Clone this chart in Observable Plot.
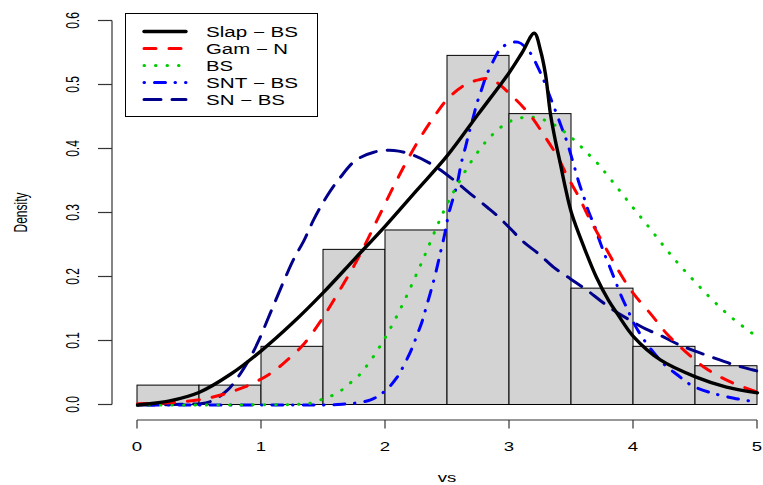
<!DOCTYPE html>
<html><head><meta charset="utf-8">
<script src="https://cdn.jsdelivr.net/npm/d3@7"></script>
<script src="https://cdn.jsdelivr.net/npm/@observablehq/plot@0.6"></script>
<style>
body{margin:0;background:#fff}
svg{font-family:"Liberation Sans",Arial,Helvetica,sans-serif}
</style>
</head><body><div id="chart"></div>
<script>
// ---- data ----
const binEdges = [0, 0.5, 1, 1.5, 2, 2.5, 3, 3.5, 4, 4.5, 5];
const binDensity = [0.0303, 0.0303, 0.0909, 0.2424, 0.2727, 0.5455, 0.4545, 0.1818, 0.0909, 0.0606];
const xTicks = [0, 1, 2, 3, 4, 5];
const yTicks = [0, 0.1, 0.2, 0.3, 0.4, 0.5, 0.6];
const yTickLabels = ["0.0", "0.1", "0.2", "0.3", "0.4", "0.5", "0.6"];
const xLabel = "vs";
const yLabel = "Density";
const seriesNames = ["Slap \u2212 BS", "Gam \u2212 N", "BS", "SNT \u2212 BS", "SN \u2212 BS"];

const slapX = [0, 0.1, 0.25, 0.5, 0.75, 1.0, 1.25, 1.5, 1.75, 2.0, 2.25, 2.5, 2.75, 3.0, 3.1, 3.2, 3.25, 3.29, 3.33, 3.37, 3.41, 3.45, 3.5, 3.6, 3.7, 3.8, 3.87, 4.0, 4.22, 4.5, 4.75, 5.0];
const slapY = [0, 0.002, 0.006, 0.02, 0.048, 0.085, 0.128, 0.176, 0.228, 0.28, 0.335, 0.39, 0.455, 0.52, 0.55, 0.581, 0.554, 0.517, 0.455, 0.413, 0.377, 0.34, 0.30, 0.247, 0.2, 0.163, 0.1425, 0.107, 0.07, 0.044, 0.028, 0.019];

const gamX = [0, 0.3, 0.6, 0.86, 1.07, 1.2, 1.34, 1.48, 1.58, 1.77, 1.93, 2.09, 2.25, 2.39, 2.5, 2.63, 2.75, 2.85, 3.03, 3.17, 3.28, 3.39, 3.47, 3.56, 3.64, 3.72, 3.82, 3.91, 4.0, 4.14, 4.27, 4.41, 4.57, 4.76, 5.0];
const gamY = [0.002, 0.004, 0.012, 0.028, 0.049, 0.069, 0.095, 0.132, 0.163, 0.226, 0.288, 0.351, 0.408, 0.45, 0.478, 0.499, 0.508, 0.509, 0.481, 0.452, 0.421, 0.387, 0.356, 0.325, 0.293, 0.265, 0.23, 0.2, 0.174, 0.142, 0.111, 0.085, 0.059, 0.038, 0.02];

const bsX = [0, 0.5, 1.0, 1.3, 1.4, 1.5, 1.615, 1.7, 1.78, 1.844, 1.9, 1.95, 2.0, 2.086, 2.167, 2.242, 2.315, 2.417, 2.497, 2.578, 2.677, 2.788, 2.855, 2.93, 3.02, 3.156, 3.277, 3.385, 3.47, 3.55, 3.62, 3.694, 3.76, 3.88, 4.0, 4.124, 4.245, 4.37, 4.508, 4.648, 4.804, 5.0];
const bsY = [0, 0, 0.0003, 0.001, 0.003, 0.0097, 0.019, 0.032, 0.045, 0.06, 0.075, 0.09, 0.106, 0.137, 0.169, 0.201, 0.233, 0.28, 0.314, 0.343, 0.376, 0.4065, 0.421, 0.434, 0.4445, 0.45, 0.4456, 0.435, 0.4226, 0.409, 0.395, 0.381, 0.366, 0.337, 0.3075, 0.278, 0.248, 0.219, 0.19, 0.162, 0.1345, 0.106];

const sntX = [0, 0.5, 1.0, 1.5, 1.65, 1.88, 2.0, 2.094, 2.153, 2.21, 2.254, 2.296, 2.33, 2.363, 2.403, 2.444, 2.478, 2.51, 2.578, 2.61, 2.645, 2.672, 2.704, 2.74, 2.774, 2.812, 2.865, 2.94, 3.067, 3.164, 3.228, 3.277, 3.323, 3.37, 3.42, 3.46, 3.524, 3.559, 3.6, 3.64, 3.685, 3.72, 3.766, 3.81, 3.855, 3.9, 3.95, 4.0, 4.07, 4.15, 4.245, 4.35, 4.47, 4.635, 4.81, 5.0];
const sntY = [0, 0, 0, 0, 0.001, 0.008, 0.0227, 0.0434, 0.064, 0.087, 0.109, 0.131, 0.154, 0.176, 0.205, 0.239, 0.2675, 0.2987, 0.3456, 0.377, 0.403, 0.424, 0.447, 0.473, 0.4925, 0.514, 0.536, 0.559, 0.567, 0.551, 0.528, 0.507, 0.4836, 0.46, 0.434, 0.413, 0.3716, 0.348, 0.3247, 0.301, 0.2805, 0.26, 0.236, 0.215, 0.193, 0.171, 0.15, 0.129, 0.106, 0.085, 0.064, 0.0477, 0.0305, 0.0185, 0.0106, 0.0044];

const snX = [0, 0.35, 0.575, 0.723, 0.83, 0.911, 0.978, 1.046, 1.113, 1.194, 1.26, 1.34, 1.422, 1.53, 1.637, 1.758, 1.906, 2.067, 2.229, 2.39, 2.538, 2.685, 2.82, 2.9, 3.008, 3.115, 3.236, 3.357, 3.492, 3.627, 3.734, 3.84, 3.976, 4.097, 4.218, 4.352, 4.486, 4.648, 4.81, 4.957, 5.0];
const snY = [0, 0.001, 0.0045, 0.0227, 0.049, 0.0747, 0.1008, 0.132, 0.163, 0.2, 0.228, 0.256, 0.29, 0.327, 0.356, 0.382, 0.395, 0.3977, 0.39, 0.374, 0.3534, 0.33, 0.309, 0.296, 0.2753, 0.2544, 0.236, 0.215, 0.197, 0.179, 0.163, 0.148, 0.132, 0.119, 0.1086, 0.0956, 0.085, 0.0737, 0.0628, 0.055, 0.053];

// ---- styles ----
const styles = [
  {stroke: "#000000", width: 3.4, dash: null},
  {stroke: "#ff0000", width: 3, dash: "12,13"},
  {stroke: "#00cd00", width: 3, dash: "0.5,11"},
  {stroke: "#0000ff", width: 3, dash: "0.5,10,11,9.5"},
  {stroke: "#00008b", width: 3, dash: "17,11"}
];
const seriesX = [slapX, gamX, bsX, sntX, snX];
const seriesY = [slapY, gamY, bsY, sntY, snY];

function lineMark(i) {
  const s = styles[i];
  const o = {x: seriesX[i], y: seriesY[i], stroke: s.stroke, strokeWidth: s.width,
             curve: "catmull-rom", strokeLinecap: "round", strokeLinejoin: "round"};
  if (s.dash) o.strokeDasharray = s.dash;
  return Plot.line(seriesY[i], o);
}

const chart = Plot.plot({
  width: 763, height: 485,
  marginLeft: 112, marginRight: 0, marginTop: 5, marginBottom: 65,
  x: {domain: [0, 5], range: [137, 757], axis: null},
  y: {domain: [0, 0.6], range: [404.5, 20.5], axis: null},
  style: {background: "#ffffff", overflow: "visible"},
  marks: [
    Plot.rectY(binDensity, {x1: binEdges.slice(0, -1), x2: binEdges.slice(1), y: binDensity,
      fill: "#d3d3d3", stroke: "#000000", strokeWidth: 1}),
    lineMark(4), lineMark(3), lineMark(2), lineMark(1), lineMark(0)
  ]
});
document.getElementById("chart").appendChild(chart);

// ---- axes & legend (drawn through Plot's own scales) ----
function toFn(sc) { return sc.apply ? (v) => sc.apply(v) : d3.scaleLinear(sc.domain, sc.range); }
const fx = toFn(chart.scale("x"));
const fy = toFn(chart.scale("y"));
const svg = d3.select(chart);
const g = svg.append("g");
const axisColor = "#333333";
const xAxisY = 420, yAxisX = 112;
const kx = 1.55; // horizontal stretch of axis text
const axisFont = 12;

// x axis
g.append("line").attr("x1", fx(xTicks[0])).attr("x2", fx(xTicks[xTicks.length - 1]))
  .attr("y1", xAxisY).attr("y2", xAxisY).attr("stroke", axisColor).attr("stroke-width", 1.2);
xTicks.forEach(t => {
  g.append("line").attr("x1", fx(t)).attr("x2", fx(t)).attr("y1", xAxisY).attr("y2", xAxisY + 8.5)
    .attr("stroke", axisColor).attr("stroke-width", 1.2);
  g.append("text").attr("transform", `translate(${fx(t)},${xAxisY + 27}) scale(${kx},1)`)
    .attr("text-anchor", "middle").attr("dominant-baseline", "central")
    .attr("font-size", axisFont).attr("fill", "#000").text(String(t));
});
g.append("text").attr("transform", `translate(${(fx(0) + fx(5)) / 2},${478}) scale(${kx},1)`)
  .attr("text-anchor", "middle").attr("dominant-baseline", "central")
  .attr("font-size", axisFont).attr("fill", "#000").text(xLabel);

// y axis
g.append("line").attr("x1", yAxisX).attr("x2", yAxisX)
  .attr("y1", fy(yTicks[0])).attr("y2", fy(yTicks[yTicks.length - 1]))
  .attr("stroke", axisColor).attr("stroke-width", 1.2);
yTicks.forEach((t, i) => {
  g.append("line").attr("x1", yAxisX - 14).attr("x2", yAxisX).attr("y1", fy(t)).attr("y2", fy(t))
    .attr("stroke", axisColor).attr("stroke-width", 1.2);
  g.append("text").attr("transform", `translate(${yAxisX - 40},${fy(t)}) scale(${kx},1) rotate(-90)`)
    .attr("text-anchor", "middle").attr("dominant-baseline", "central")
    .attr("font-size", axisFont).attr("fill", "#000").text(yTickLabels[i]);
});
g.append("text").attr("transform", `translate(20,${(fy(0) + fy(0.6)) / 2}) scale(${kx},1) rotate(-90)`)
  .attr("text-anchor", "middle").attr("dominant-baseline", "central")
  .attr("font-size", axisFont).attr("fill", "#000").text(yLabel);

// legend
const lg = svg.append("g");
lg.append("rect").attr("x", 125.5).attr("y", 13.5).attr("width", 192).attr("height", 103)
  .attr("fill", "#ffffff").attr("stroke", "#000").attr("stroke-width", 1);
const textWidths = [92, 82, 27, 92, 79];
seriesNames.forEach((name, i) => {
  const yy = 31.5 + 17 * i;
  const s = styles[i];
  const ln = lg.append("line").attr("x1", 144).attr("x2", 186).attr("y1", yy).attr("y2", yy)
    .attr("stroke", s.stroke).attr("stroke-width", s.width).attr("stroke-linecap", "round");
  if (s.dash) ln.attr("stroke-dasharray", s.dash);
  lg.append("text").attr("x", 206).attr("y", yy).attr("dominant-baseline", "central")
    .attr("text-anchor", "start")
    .attr("font-size", 14).attr("fill", "#000")
    .attr("textLength", textWidths[i]).attr("lengthAdjust", "spacingAndGlyphs").text(name);
});
</script>
</body></html>
